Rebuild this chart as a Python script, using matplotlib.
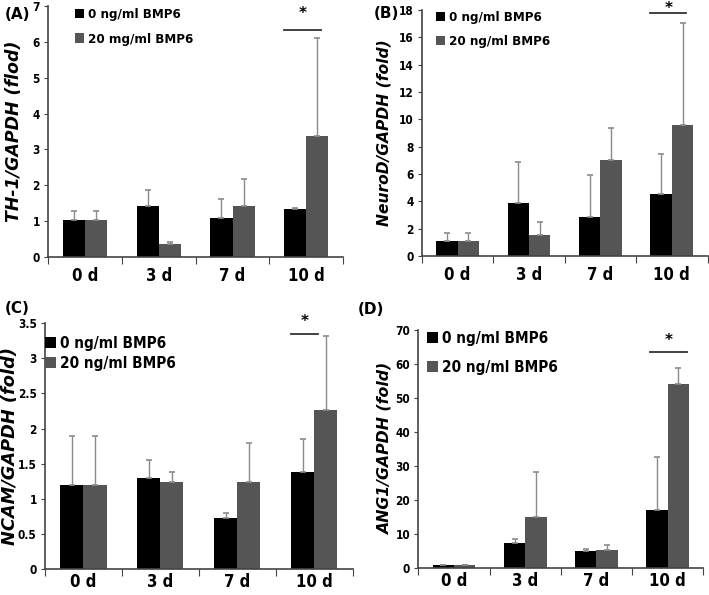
import numpy as np
import matplotlib
matplotlib.use("Agg")
import matplotlib.pyplot as plt

# ---------- data ----------
days = ["0 d", "3 d", "7 d", "10 d"]

th1_ctrl     = [1.03, 1.43, 1.08, 1.33]
th1_ctrl_up  = [1.27, 1.87, 1.62, 1.38]
th1_bmp      = [1.03, 0.36, 1.41, 3.37]
th1_bmp_up   = [1.27, 0.42, 2.17, 6.10]

neu_ctrl     = [1.10, 3.85, 2.85, 4.55]
neu_ctrl_up  = [1.70, 6.85, 5.90, 7.45]
neu_bmp      = [1.10, 1.55, 7.05, 9.60]
neu_bmp_up   = [1.70, 2.45, 9.40, 17.05]

ncam_ctrl    = [1.20, 1.30, 0.72, 1.38]
ncam_ctrl_up = [1.90, 1.55, 0.80, 1.85]
ncam_bmp     = [1.20, 1.24, 1.24, 2.27]
ncam_bmp_up  = [1.90, 1.38, 1.80, 3.32]

ang_ctrl     = [0.8, 7.3, 4.9, 17.0]
ang_ctrl_up  = [1.0, 8.6, 5.6, 32.6]
ang_bmp      = [0.8, 15.0, 5.2, 54.0]
ang_bmp_up   = [0.9, 28.3, 6.8, 58.7]
# --------------------------------------------------

NARROW = dict(family="DejaVu Sans", stretch="condensed", weight="bold")
C_BLACK = "#000000"
C_GRAY = "#555555"

fig = plt.figure(figsize=(7.09, 5.95), dpi=100)


def panel(rect, ctrl, ctrl_up, bmp, bmp_up, ymax, ystep, ylab, ylab_fs, leg2,
          tag, tagxy, sig_y, star_y, sig_x, ylab_x, leg_xy, leg_fs, leg_sp, xpad):
    ax = fig.add_axes(rect)
    x = np.arange(len(days))
    w = 0.3
    ax.bar(x - w/2, ctrl, w, color=C_BLACK, label="0 ng/ml BMP6", zorder=2)
    ax.bar(x + w/2, bmp, w, color=C_GRAY, label=leg2, zorder=2)
    for xs, lo, hi in [(x - w/2, ctrl, ctrl_up), (x + w/2, bmp, bmp_up)]:
        lo = np.array(lo); hi = np.array(hi)
        ax.errorbar(xs, lo, yerr=[np.zeros_like(lo), hi - lo], fmt="none",
                    ecolor="#8a8a8a", elinewidth=1.0, capsize=2.5, capthick=1.2,
                    zorder=3)
    # significance marker at 10 d
    ax.plot([3 + sig_x[0], 3 + sig_x[1]], [sig_y, sig_y], color="#333333",
            lw=1.3, clip_on=False)
    ax.text(3 + (sig_x[0] + sig_x[1]) / 2, star_y, "*", ha="center", va="center",
            fontsize=11, fontweight="bold", clip_on=False)

    ax.set_xlim(-0.5, 3.5)
    ax.set_ylim(0, ymax)
    yt = np.arange(0, ymax + ystep/2, ystep)
    ax.set_yticks(yt)
    ax.set_yticklabels([f"{v:g}" for v in yt], fontsize=8.5, **NARROW)
    ax.set_xticks([-0.5, 0.5, 1.5, 2.5, 3.5])
    ax.set_xticklabels([])
    ax.set_xticks(x, minor=True)
    ax.set_xticklabels(days, minor=True, fontsize=12, **NARROW)
    ax.tick_params(axis="x", which="minor", length=0, pad=xpad)
    ax.tick_params(axis="x", which="major", length=5, direction="out",
                   color="#444444")
    ax.tick_params(axis="y", length=3, color="#444444", pad=3)
    for s in ["top", "right"]:
        ax.spines[s].set_visible(False)
    for s in ["left", "bottom"]:
        ax.spines[s].set_color("#444444")
        ax.spines[s].set_linewidth(1.2)
    ax.set_ylabel(ylab, fontsize=ylab_fs, fontweight="bold", style="italic")
    ax.yaxis.set_label_coords(ylab_x, 0.5)
    ax.legend(loc="upper left", bbox_to_anchor=leg_xy, frameon=False,
              borderpad=0, borderaxespad=0,
              handlelength=0.7, handleheight=0.7, handletextpad=0.3,
              labelspacing=leg_sp,
              prop=dict(size=leg_fs, **NARROW))
    fig.text(tagxy[0], tagxy[1], tag, fontsize=11, fontweight="bold",
             ha="left", va="center")
    return ax


panel([0.068, 0.568, 0.416, 0.422], th1_ctrl, th1_ctrl_up, th1_bmp, th1_bmp_up,
      7, 1, "TH-1/GAPDH (flod)", 12.5, "20 mg/ml BMP6", "(A)", (0.006, 0.975),
      sig_y=6.33, star_y=6.78, sig_x=(-0.3, 0.2), ylab_x=-0.085,
      leg_xy=(0.09, 0.99), leg_fs=9.5, leg_sp=0.85, xpad=7)

panel([0.595, 0.570, 0.403, 0.413], neu_ctrl, neu_ctrl_up, neu_bmp, neu_bmp_up,
      18, 2, "NeuroD/GAPDH (fold)", 11.2, "20 ng/ml BMP6", "(B)", (0.527, 0.978),
      sig_y=17.8, star_y=18.1, sig_x=(-0.3, 0.2), ylab_x=-0.105,
      leg_xy=(0.05, 0.995), leg_fs=9.5, leg_sp=0.8, xpad=7)

panel([0.0635, 0.0437, 0.434, 0.413], ncam_ctrl, ncam_ctrl_up, ncam_bmp, ncam_bmp_up,
      3.5, 0.5, "NCAM/GAPDH (fold)", 12.8, "20 ng/ml BMP6", "(C)", (0.006, 0.482),
      sig_y=3.35, star_y=3.53, sig_x=(-0.3, 0.05), ylab_x=-0.083,
      leg_xy=(0.0, 0.95), leg_fs=11, leg_sp=0.35, xpad=3)

panel([0.590, 0.0454, 0.402, 0.400], ang_ctrl, ang_ctrl_up, ang_bmp, ang_bmp_up,
      70, 10, "ANG1/GAPDH (fold)", 11.3, "20 ng/ml BMP6", "(D)", (0.505, 0.480),
      sig_y=63.4, star_y=67.0, sig_x=(-0.25, 0.27), ylab_x=-0.09,
      leg_xy=(0.03, 0.995), leg_fs=11, leg_sp=0.9, xpad=3)

fig.savefig("out.png", dpi=100)
